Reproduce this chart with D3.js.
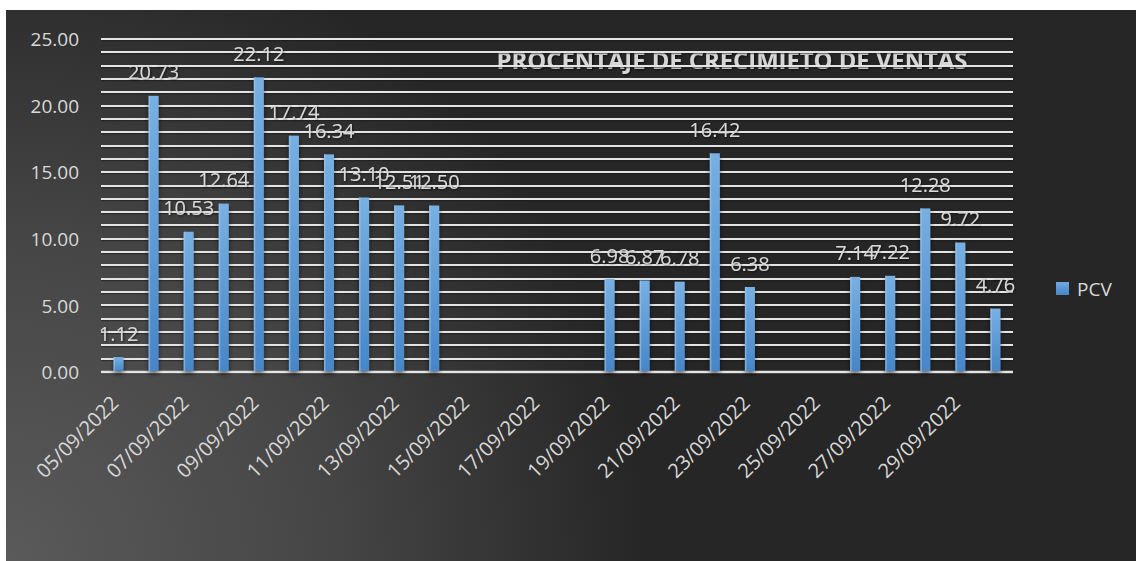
<!DOCTYPE html>
<html>
<head>
<meta charset="utf-8">
<script src="https://cdn.jsdelivr.net/npm/d3@7"></script>
<style>
  html, body { margin: 0; padding: 0; background: #ffffff; }
  svg { display: block; }
  text { font-family: "Open Sans", "Noto Sans", sans-serif; }
</style>
</head>
<body>
<svg id="chart" width="1136" height="561"></svg>
<script>
// Daily sales growth percentage (PCV), September 2022
const dates = [
  "05/09/2022","06/09/2022","07/09/2022","08/09/2022","09/09/2022","10/09/2022",
  "11/09/2022","12/09/2022","13/09/2022","14/09/2022","15/09/2022","16/09/2022",
  "17/09/2022","18/09/2022","19/09/2022","20/09/2022","21/09/2022","22/09/2022",
  "23/09/2022","24/09/2022","25/09/2022","26/09/2022","27/09/2022","28/09/2022",
  "29/09/2022","30/09/2022"
];
const pcv = [
  1.12, 20.73, 10.53, 12.64, 22.12, 17.74, 16.34, 13.10, 12.51, 12.50,
  null, null, null, null, 6.98, 6.87, 6.78, 16.42, 6.38, null, null,
  7.14, 7.22, 12.28, 9.72, 4.76
];
const yTicks = [0, 5, 10, 15, 20, 25];
const gridValues = d3.range(0, 26, 1);
const tickDates = dates.filter((d, i) => i % 2 === 0);
const seriesName = "PCV";
const title = "PROCENTAJE DE CRECIMIETO DE VENTAS";

const svg = d3.select("#chart");
const W = 1136, H = 561;
const plot = { left: 101, right: 1013, top: 39, bottom: 372 };

const defs = svg.append("defs");

// Chart-area background: light at lower-left fading to charcoal
const bg = defs.append("radialGradient").attr("id", "bgGrad")
  .attr("gradientUnits", "userSpaceOnUse")
  .attr("cx", 6).attr("cy", 561).attr("r", 640);
bg.append("stop").attr("offset", "0%").attr("stop-color", "#5a5a5a");
bg.append("stop").attr("offset", "50%").attr("stop-color", "#464646");
bg.append("stop").attr("offset", "100%").attr("stop-color", "#262626");

const barGrad = defs.append("linearGradient").attr("id", "barGrad")
  .attr("x1", 0).attr("y1", 0).attr("x2", 0).attr("y2", 1);
barGrad.append("stop").attr("offset", "0%").attr("stop-color", "#78b0e2");
barGrad.append("stop").attr("offset", "100%").attr("stop-color", "#4686c8");

const legGrad = defs.append("linearGradient").attr("id", "legGrad")
  .attr("x1", 0).attr("y1", 0).attr("x2", 0).attr("y2", 1);
legGrad.append("stop").attr("offset", "0%").attr("stop-color", "#6fa9de");
legGrad.append("stop").attr("offset", "100%").attr("stop-color", "#4686c8");

const shadow = defs.append("filter").attr("id", "barShadow")
  .attr("x", "-50%").attr("y", "-10%").attr("width", "200%").attr("height", "130%");
shadow.append("feDropShadow").attr("dx", 0).attr("dy", 3)
  .attr("stdDeviation", 2.5).attr("flood-color", "#000").attr("flood-opacity", 0.55);

const txtShadow = defs.append("filter").attr("id", "txtShadow")
  .attr("x", "-10%").attr("y", "-30%").attr("width", "120%").attr("height", "160%");
txtShadow.append("feDropShadow").attr("dx", 1).attr("dy", 1)
  .attr("stdDeviation", 0.8).attr("flood-color", "#000").attr("flood-opacity", 0.6);

svg.append("rect").attr("x", 6).attr("y", 10).attr("width", W - 6).attr("height", H - 10)
  .attr("fill", "url(#bgGrad)");

const x = d3.scaleBand().domain(dates).range([plot.left, plot.right]).paddingInner(0).paddingOuter(0);
const y = d3.scaleLinear().domain([0, 25]).range([plot.bottom, plot.top]);
const barW = 10;

// Title
const titleText = svg.append("text")
  .attr("x", 732).attr("y", 60)
  .attr("text-anchor", "middle").attr("dominant-baseline", "central")
  .attr("font-weight", "bold").attr("font-size", 20)
  .attr("fill", "#d6d6d6").attr("filter", "url(#txtShadow)")
  .text(title);
{
  const len = titleText.node().getComputedTextLength();
  titleText.attr("font-size", 20 * 471 / len);
}

// Horizontal gridlines, one per unit
const grid = svg.append("g");
grid.selectAll("line.sh").data(gridValues).join("line")
  .attr("class", "sh")
  .attr("x1", plot.left).attr("x2", plot.right)
  .attr("y1", d => Math.round(y(d)) + 1.5).attr("y2", d => Math.round(y(d)) + 1.5)
  .attr("stroke", "#151515").attr("stroke-opacity", 0.5).attr("stroke-width", 1.5);
grid.selectAll("line.gl").data(gridValues).join("line")
  .attr("class", "gl")
  .attr("x1", plot.left).attr("x2", plot.right)
  .attr("y1", d => Math.round(y(d))).attr("y2", d => Math.round(y(d)))
  .attr("stroke", "#e4e4e4").attr("stroke-width", d => d === 0 ? 2.5 : 2);

// Y axis labels
const yAxis = d3.axisLeft(y).tickValues(yTicks).tickFormat(d3.format(".2f")).tickSize(0).tickPadding(0);
const yG = svg.append("g").attr("transform", `translate(79,0)`).call(yAxis);
yG.select(".domain").remove();
yG.selectAll("text")
  .attr("font-size", 19).attr("fill", "#d9d9d9")
  .attr("font-family", "'Open Sans', 'Noto Sans', sans-serif")
  .attr("dy", "0.35em");

// Bars
const data = dates.map((d, i) => ({ date: d, v: pcv[i] })).filter(d => d.v != null);
const bars = svg.append("g").attr("filter", "url(#barShadow)");
bars.selectAll("rect").data(data).join("rect")
  .attr("x", d => x(d.date) + x.bandwidth() / 2 - barW / 2)
  .attr("y", d => y(d.v))
  .attr("width", barW)
  .attr("height", d => y(0) - y(d.v) - 1)
  .attr("fill", "url(#barGrad)");
svg.append("g").selectAll("rect").data(data).join("rect")
  .attr("x", d => x(d.date) + x.bandwidth() / 2 - barW / 2)
  .attr("y", d => y(d.v))
  .attr("width", 1.5)
  .attr("height", d => y(0) - y(d.v) - 1)
  .attr("fill", "#9cc6ee").attr("opacity", 0.6);

// Value labels
svg.append("g").selectAll("text").data(data).join("text")
  .attr("x", d => x(d.date) + x.bandwidth() / 2)
  .attr("y", d => y(d.v) - 24)
  .attr("text-anchor", "middle").attr("dominant-baseline", "central")
  .attr("font-size", 20).attr("fill", "#d9d9d9")
  .attr("filter", "url(#txtShadow)")
  .text(d => d.v.toFixed(2));

// X axis date labels (every other day), rotated
const xG = svg.append("g");
xG.selectAll("text").data(tickDates).join("text")
  .attr("transform", d => `translate(${x(d) + x.bandwidth() / 2 - 4},${plot.bottom + 27}) rotate(-45)`)
  .attr("text-anchor", "end").attr("dominant-baseline", "central")
  .attr("font-size", 20).attr("fill", "#d9d9d9")
  .text(d => d);

// Legend
svg.append("rect").attr("x", 1056).attr("y", 282).attr("width", 13).attr("height", 13)
  .attr("fill", "url(#legGrad)");
svg.append("text").attr("x", 1077).attr("y", 289)
  .attr("dominant-baseline", "central")
  .attr("font-size", 19).attr("fill", "#d9d9d9")
  .text(seriesName);
</script>
</body>
</html>
